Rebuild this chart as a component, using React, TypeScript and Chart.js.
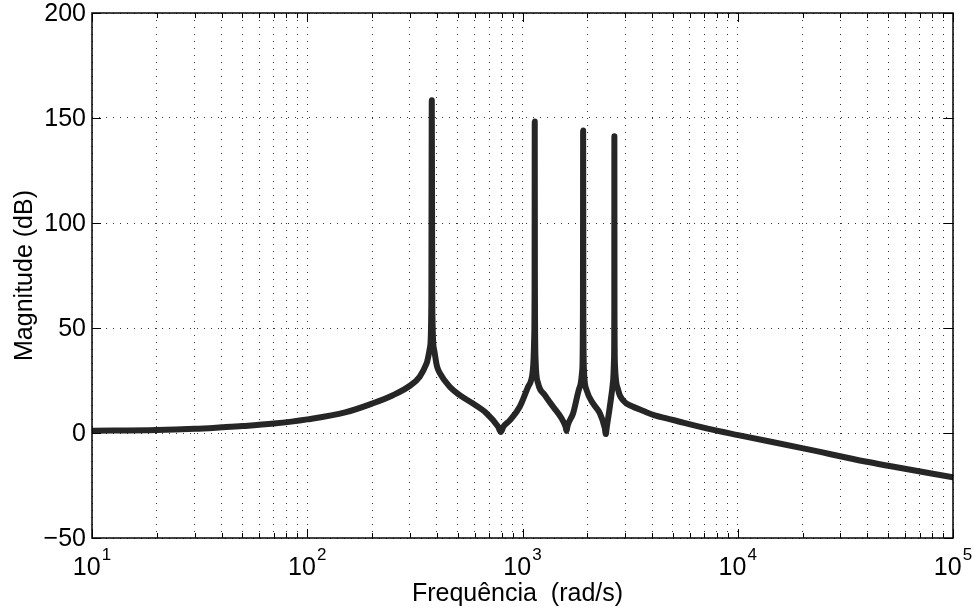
import React, { useEffect, useRef } from 'react';
import { Chart, registerables } from 'chart.js';

Chart.register(...registerables);

// Frequency (rad/s)
const freqs = [
  10, 20, 30, 40, 50, 70, 100, 150, 200, 250, 300, 333, 358, 372, 377, 379, 381, 388, 400, 413,
  459, 511, 589, 680, 770, 793, 815, 873, 971, 1062, 1117, 1133, 1138, 1140, 1142, 1150, 1181, 1270, 1388,
  1518, 1585, 1602, 1620, 1719, 1847, 1895, 1909, 1913, 1917, 1930, 1984, 2129, 2287, 2410, 2438, 2465, 2545, 2637, 2662,
  2670, 2672, 2675, 2690, 2782, 2936, 3268, 3508, 4047, 5012, 7165, 10050, 20160, 39720, 50000,
  100000,
];
// Magnitude (dB)
const magnitudes = [
  1.1, 1.4, 2.0, 2.7, 3.3, 4.5, 6.5, 9.8, 14, 18, 22.5, 26.8, 33, 41, 60, 158.5, 60, 40, 32, 28.5,
  22, 18, 14, 9.4, 3, 0.5, 3, 6, 12.5, 22, 30, 45, 70, 148.3, 70, 35, 23.7, 18, 12.5,
  7, 3, 1, 3.5, 9.4, 22, 30, 60, 144, 60, 30, 20.5, 14, 9.4, 2.5, -0.5, 3, 12.5, 25, 35,
  60, 141.3, 60, 32, 20.5, 15.5, 12.5, 11.2, 8.6, 6.2, 2.2, -1, -7.3, -13.7, -15.6,
  -21.1,
];
const yTickValues = [-50, 0, 50, 100, 150, 200];
const xDecadeExponents = [1, 2, 3, 4, 5];
const xTitle = 'Frequência  (rad/s)';
const yTitle = 'Magnitude (dB)';

const FONT = '"Liberation Sans", Arial, Helvetica, sans-serif';

export default function App() {
  const ref = useRef<HTMLCanvasElement>(null);

  useEffect(() => {
    document.body.style.margin = '0';
    const canvas = ref.current;
    if (!canvas) return;

    const xGridValues: number[] = [];
    for (let e = 1; e < 5; e++) {
      for (let m = 1; m < 10; m++) xGridValues.push(m * Math.pow(10, e));
    }
    xGridValues.push(100000);

    const decorations = {
      id: 'decorations',
      afterDraw(chart: any) {
        const { ctx, chartArea: a, scales } = chart;
        const xs = scales.x;
        const ys = scales.y;
        ctx.save();
        ctx.strokeStyle = '#000';
        ctx.lineWidth = 1;
        const line = (x1: number, y1: number, x2: number, y2: number) => {
          ctx.beginPath();
          ctx.moveTo(x1, y1);
          ctx.lineTo(x2, y2);
          ctx.stroke();
        };
        // inward ticks
        xGridValues.forEach((v) => {
          const px = Math.round(xs.getPixelForValue(v)) + 0.5;
          const lg = Math.log10(v);
          const major = Math.abs(lg - Math.round(lg)) < 1e-9;
          const len = major ? 9 : 5;
          line(px, a.bottom, px, a.bottom - len);
          line(px, a.top, px, a.top + len);
        });
        yTickValues.forEach((v) => {
          const py = Math.round(ys.getPixelForValue(v)) + 0.5;
          line(a.left, py, a.left + 9, py);
          line(a.right, py, a.right - 9, py);
        });
        // frame
        ctx.lineWidth = 1.5;
        ctx.strokeRect(a.left, a.top, a.right - a.left, a.bottom - a.top);

        // y tick labels
        ctx.fillStyle = '#000';
        ctx.font = `25px ${FONT}`;
        ctx.textAlign = 'right';
        ctx.textBaseline = 'middle';
        yTickValues.forEach((v) => {
          const py = ys.getPixelForValue(v);
          const label = v < 0 ? '\u2212' + Math.abs(v) : String(v);
          ctx.fillText(label, a.left - 6, py + 1);
        });

        // x tick labels 10^n
        ctx.textAlign = 'left';
        ctx.textBaseline = 'alphabetic';
        xDecadeExponents.forEach((e) => {
          const px = xs.getPixelForValue(Math.pow(10, e));
          ctx.font = `25px ${FONT}`;
          const wb = ctx.measureText('10').width;
          ctx.font = `17px ${FONT}`;
          const we = ctx.measureText(String(e)).width;
          const x0 = px - (wb + we + 1) / 2;
          ctx.font = `25px ${FONT}`;
          ctx.fillText('10', x0, 575);
          ctx.font = `17px ${FONT}`;
          ctx.fillText(String(e), x0 + wb + 1, 560);
        });

        // axis titles
        ctx.font = `25px ${FONT}`;
        ctx.textAlign = 'center';
        ctx.fillText(xTitle, (a.left + a.right) / 2 - 5, 601);
        ctx.save();
        ctx.translate(32, (a.top + a.bottom) / 2);
        ctx.rotate(-Math.PI / 2);
        ctx.textBaseline = 'alphabetic';
        ctx.fillText(yTitle, 0, 0);
        ctx.restore();

        ctx.restore();
      },
    };

    const chart = new Chart(canvas, {
      type: 'line',
      data: {
        datasets: [
          {
            data: freqs.map((f, i) => ({ x: f, y: magnitudes[i] })),
            borderColor: '#262626',
            borderWidth: 6,
            pointRadius: 0,
            cubicInterpolationMode: 'monotone',
            borderJoinStyle: 'round',
            borderCapStyle: 'round',
            fill: false,
          },
        ],
      },
      options: {
        animation: false,
        responsive: false,
        devicePixelRatio: 1,
        events: [],
        layout: { padding: { left: 92, right: 21, top: 13, bottom: 74 } },
        plugins: { legend: { display: false }, tooltip: { enabled: false } },
        scales: {
          x: {
            type: 'logarithmic',
            min: 10,
            max: 100000,
            afterBuildTicks: (scale: any) => {
              scale.ticks = xGridValues.map((v) => ({ value: v }));
            },
            afterFit: (scale: any) => {
              scale.height = 0;
            },
            ticks: { display: false },
            grid: { color: 'rgba(0,0,0,0.8)', lineWidth: 1, drawTicks: false },
            border: { display: false, dash: [1, 6] },
          },
          y: {
            type: 'linear',
            min: -50,
            max: 200,
            afterBuildTicks: (scale: any) => {
              scale.ticks = yTickValues.map((v) => ({ value: v }));
            },
            afterFit: (scale: any) => {
              scale.width = 0;
            },
            ticks: { display: false },
            grid: { color: 'rgba(0,0,0,0.8)', lineWidth: 1, drawTicks: false },
            border: { display: false, dash: [1, 6] },
          },
        },
      },
      plugins: [decorations],
    } as any);

    return () => chart.destroy();
  }, []);

  return (
    <div style={{ width: 974, height: 612, background: '#fff' }}>
      <canvas ref={ref} width={974} height={612} style={{ display: 'block' }} />
    </div>
  );
}
